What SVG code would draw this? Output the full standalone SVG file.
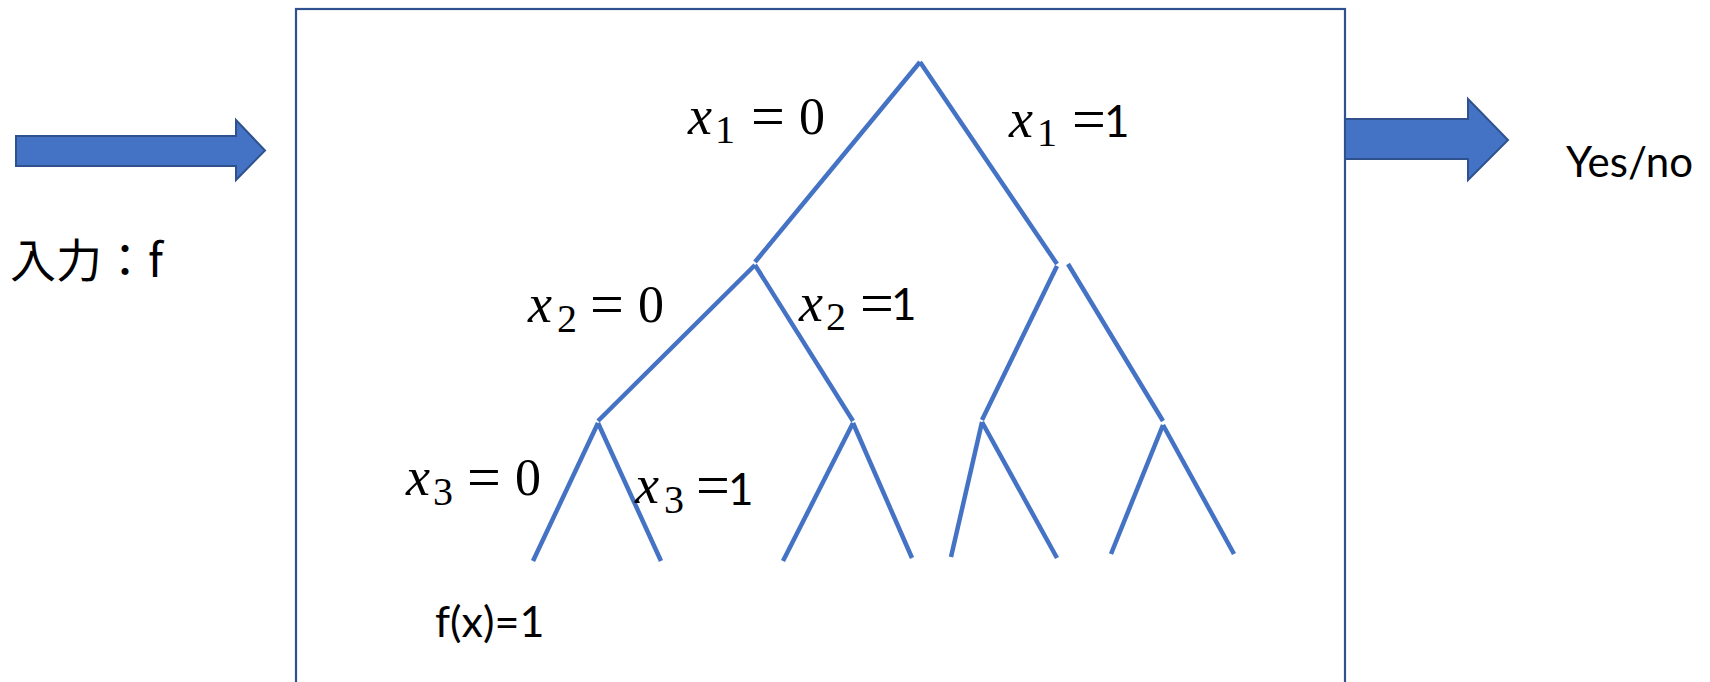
<svg xmlns="http://www.w3.org/2000/svg" width="1710" height="682" viewBox="0 0 1710 682">
<style>
.box{fill:none;stroke:#2F528F;stroke-width:2.2}
.arrow{fill:#4472C4;stroke:#2F528F;stroke-width:2;stroke-linejoin:miter}
.edge{stroke:#4472C4;stroke-width:4.5;stroke-linecap:butt;fill:none}
.txt{font-family:Lato,"Liberation Sans",sans-serif;fill:#000}
.jp{font-family:"Noto Sans CJK JP","Noto Sans",sans-serif;fill:#000}
.mx{font-family:"Liberation Serif",serif;font-style:italic;font-size:54px;fill:#000}
.ms{font-family:"Liberation Serif",serif;font-size:40px;fill:#000}
.eq{font-family:"Liberation Serif",serif;font-size:60px;fill:#000}
.mn{font-family:"Liberation Serif",serif;font-size:52px;fill:#000}
.one{font-family:Lato,"Liberation Sans",sans-serif;font-size:44px;fill:#000}
</style>
<rect id="machine" class="box" x="296" y="9" width="1049" height="720"/>
<g id="input-arrow"><path class="arrow" d="M16,136 H236 V120 L265,150.5 L236,180 V166 H16 Z"/></g>
<g id="output-arrow"><path class="arrow" d="M1345,119 H1468 V99 L1508,140 L1468,180 V159 H1345 Z"/></g>
<g id="input-label"><text class="jp" x="10" y="277" font-size="46">入力：f</text></g>
<g id="output-label"><text class="txt" x="1566" y="177" font-size="42">Yes/no</text></g>
<g id="connectors">
<line class="edge" x1="920" y1="62" x2="755" y2="262"/>
<line class="edge" x1="920" y1="62" x2="1057" y2="264"/>
<line class="edge" x1="755" y1="265" x2="598" y2="421"/>
<line class="edge" x1="755" y1="265" x2="853" y2="421"/>
<line class="edge" x1="1057" y1="266" x2="982" y2="420"/>
<line class="edge" x1="1068" y1="264" x2="1163" y2="421"/>
<line class="edge" x1="598" y1="423" x2="533" y2="561"/>
<line class="edge" x1="598" y1="423" x2="661" y2="561"/>
<line class="edge" x1="853" y1="423" x2="783" y2="561"/>
<line class="edge" x1="853" y1="423" x2="912" y2="558"/>
<line class="edge" x1="982" y1="422" x2="951" y2="557"/>
<line class="edge" x1="982" y1="422" x2="1057" y2="558"/>
<line class="edge" x1="1163" y1="425" x2="1111" y2="554"/>
<line class="edge" x1="1163" y1="425" x2="1234" y2="554"/>
</g>
<g id="label-x1-0">
<text class="mx" x="688" y="134">x</text>
<text class="ms" x="715" y="143">1</text>
<text class="eq" x="751" y="136">=</text>
<text class="mn" x="799" y="134">0</text>
</g>
<g id="label-x1-1">
<text class="mx" x="1009" y="137">x</text>
<text class="ms" x="1037" y="146">1</text>
<text class="eq" x="1072" y="139">=</text>
<text class="one" x="1104" y="137">1</text>
</g>
<g id="label-x2-0">
<text class="mx" x="528" y="322">x</text>
<text class="ms" x="557" y="332">2</text>
<text class="eq" x="590" y="324">=</text>
<text class="mn" x="638" y="322">0</text>
</g>
<g id="label-x2-1">
<text class="mx" x="799" y="321">x</text>
<text class="ms" x="826" y="330">2</text>
<text class="eq" x="860" y="323">=</text>
<text class="one" x="891" y="320">1</text>
</g>
<g id="label-x3-0">
<text class="mx" x="406" y="495">x</text>
<text class="ms" x="433" y="505">3</text>
<text class="eq" x="467" y="497">=</text>
<text class="mn" x="515" y="495">0</text>
</g>
<g id="label-x3-1">
<text class="mx" x="635" y="503">x</text>
<text class="ms" x="664" y="513">3</text>
<text class="eq" x="696" y="505">=</text>
<text class="one" x="728" y="505">1</text>
</g>
<g id="leaf-label"><text class="txt" x="435" y="637" font-size="43">f(x)=1</text></g>
</svg>
